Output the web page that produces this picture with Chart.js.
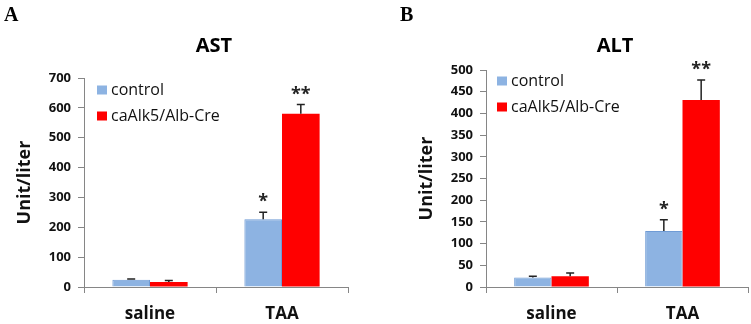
<!DOCTYPE html>
<html>
<head>
<meta charset="utf-8">
<script src="https://cdn.jsdelivr.net/npm/chart.js@4"></script>
<style>
  html, body { margin: 0; padding: 0; background: #fff; }
  #wrap { position: relative; width: 751px; height: 324px; }
  .panel { position: absolute; top: 0; height: 324px; }
</style>
</head>
<body>
<div id="wrap">
  <div class="panel" style="left:0;width:375px"><canvas id="astChart" width="375" height="324"></canvas></div>
  <div class="panel" style="left:375px;width:376px"><canvas id="altChart" width="376" height="324"></canvas></div>
</div>
<script>
// data
const categories = ["saline", "TAA"];
const seriesNames = ["control", "caAlk5/Alb-Cre"];

const astControl = [24, 227];
const astControlErr = [3, 23];
const astMutant = [17, 580];
const astMutantErr = [5, 31];

const altControl = [22, 129];
const altControlErr = [3, 26];
const altMutant = [25, 431];
const altMutantErr = [7, 46];

// significance marks per series
const controlStars = ["", "*"];
const mutantStars = ["", "**"];

const BLUE = "#8db3e2";
const RED = "#ff0000";
const AXIS = "#868686";
const FONT = "'Open Sans', sans-serif";

// error bars (upper whisker only) + stars
const errorBarPlugin = {
  id: "errorBars",
  afterDatasetsDraw(chart) {
    const ctx = chart.ctx;
    const yScale = chart.scales.y;
    chart.data.datasets.forEach((ds, i) => {
      const meta = chart.getDatasetMeta(i);
      meta.data.forEach((bar, j) => {
        const v = ds.data[j];
        const top = yScale.getPixelForValue(v + ds.errors[j]);
        ctx.save();
        ctx.strokeStyle = "#222";
        ctx.lineWidth = 1.5;
        ctx.beginPath();
        ctx.moveTo(bar.x, bar.y);
        ctx.lineTo(bar.x, top);
        ctx.moveTo(bar.x - 4, top);
        ctx.lineTo(bar.x + 4, top);
        ctx.stroke();
        const s = ds.stars[j];
        if (s) {
          ctx.fillStyle = "#222";
          ctx.font = "bold 18px " + FONT;
          ctx.textAlign = "center";
          ctx.textBaseline = "alphabetic";
          ctx.fillText(s, bar.x, top - 14 + 9);
        }
        ctx.restore();
      });
    });
  }
};

// legend drawn inside the plot area, top-left
const innerLegendPlugin = {
  id: "innerLegend",
  afterDraw(chart, args, opts) {
    const ctx = chart.ctx;
    const area = chart.chartArea;
    chart.data.datasets.forEach((ds, i) => {
      const y = area.top + opts.offsetY + i * 26;
      const x = area.left + opts.offsetX;
      ctx.save();
      ctx.fillStyle = ds.backgroundColor;
      ctx.fillRect(x, y - 4.5, 10, 9);
      ctx.fillStyle = "#111";
      ctx.font = "16px " + FONT;
      ctx.textBaseline = "middle";
      ctx.textAlign = "left";
      ctx.fillText(ds.label, x + 14, y);
      ctx.restore();
    });
  }
};

// panel letter and centred title
const headerPlugin = {
  id: "header",
  afterDraw(chart, args, opts) {
    const ctx = chart.ctx;
    const area = chart.chartArea;
    ctx.save();
    ctx.fillStyle = "#000";
    ctx.font = "bold 20px 'Liberation Serif', serif";
    ctx.textBaseline = "alphabetic";
    ctx.textAlign = "left";
    ctx.fillText(opts.letter, opts.letterX, 21);
    ctx.font = "bold 20px " + FONT;
    ctx.textAlign = "center";
    ctx.textBaseline = "middle";
    ctx.fillText(opts.title, (area.left + area.right) / 2 - 2, 46);
    ctx.restore();
  }
};

function makeChart(id, cfg) {
  return new Chart(document.getElementById(id), {
    type: "bar",
    data: {
      labels: categories,
      datasets: [
        {
          label: seriesNames[0],
          data: cfg.control,
          errors: cfg.controlErr,
          stars: controlStars,
          backgroundColor: BLUE,
          borderColor: "#6f9bd5",
          borderWidth: 1
        },
        {
          label: seriesNames[1],
          data: cfg.mutant,
          errors: cfg.mutantErr,
          stars: mutantStars,
          backgroundColor: RED,
          borderWidth: 0
        }
      ]
    },
    options: {
      responsive: false,
      animation: false,
      layout: { padding: cfg.padding },
      categoryPercentage: 0.57,
      barPercentage: 1,
      plugins: {
        legend: { display: false },
        tooltip: { enabled: false },
        innerLegend: { offsetX: cfg.legendX, offsetY: cfg.legendY },
        header: { letter: cfg.letter, letterX: cfg.letterX, title: cfg.title }
      },
      scales: {
        x: {
          afterFit(s) { s.height = 37; },
          border: { color: AXIS, width: 1 },
          grid: { offset: true, drawOnChartArea: false, tickLength: 6, color: AXIS },
          ticks: { color: "#111", padding: 11, font: { family: FONT, size: 17, weight: "bold" } }
        },
        y: {
          min: 0,
          max: cfg.max,
          afterFit(s) { s.width = 84; },
          border: { color: AXIS, width: 1 },
          grid: { drawOnChartArea: false, tickLength: 6, color: AXIS },
          ticks: { stepSize: cfg.step, color: "#111", padding: 7, font: { family: FONT, size: 13, weight: "bold" } },
          title: {
            display: true,
            text: "Unit/liter",
            color: "#111",
            padding: { top: 14, bottom: 0 },
            font: { family: FONT, size: 18, weight: "bold" }
          }
        }
      }
    },
    plugins: [errorBarPlugin, innerLegendPlugin, headerPlugin]
  });
}

makeChart("astChart", {
  control: astControl, controlErr: astControlErr,
  mutant: astMutant, mutantErr: astMutantErr,
  max: 700, step: 100,
  padding: { left: 0, right: 27, top: 78, bottom: 0 },
  legendX: 13, legendY: 12,
  letter: "A", letterX: 4, title: "AST"
});

makeChart("altChart", {
  control: altControl, controlErr: altControlErr,
  mutant: altMutant, mutantErr: altMutantErr,
  max: 500, step: 50,
  padding: { left: 27, right: 3, top: 70, bottom: 0 },
  legendX: 11, legendY: 11,
  letter: "B", letterX: 25, title: "ALT"
});
</script>
</body>
</html>
